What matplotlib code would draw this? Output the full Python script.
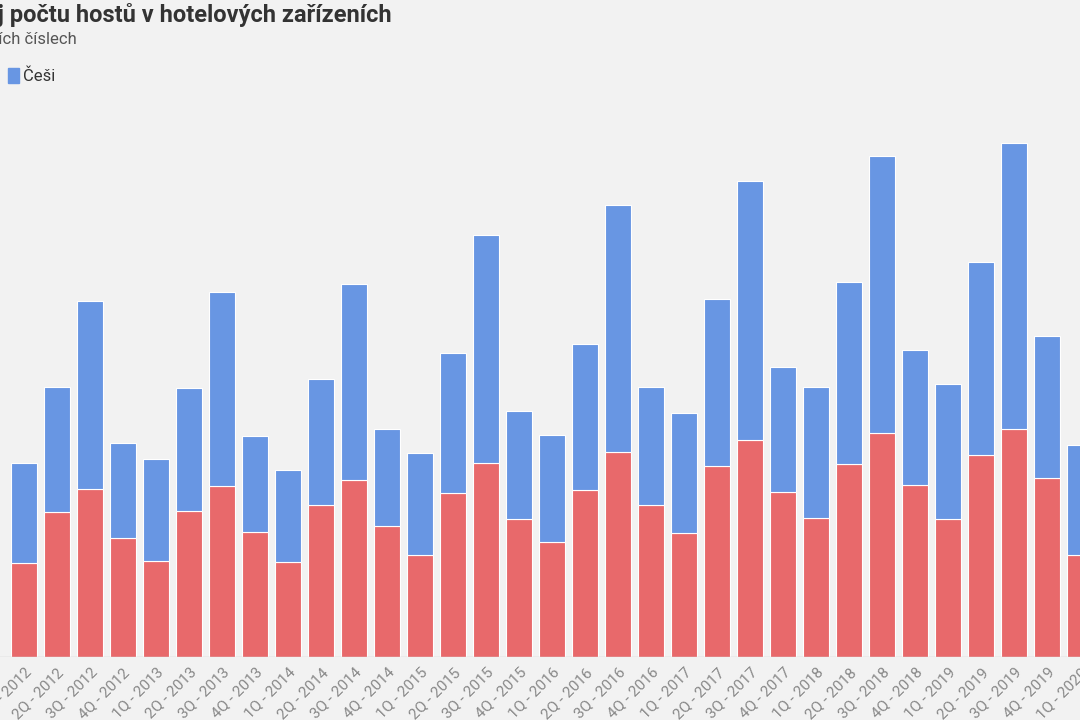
import numpy as np
import matplotlib.pyplot as plt

plt.rcParams['font.family'] = ['Roboto', 'DejaVu Sans']

quarters = ["1Q - 2012", "2Q - 2012", "3Q - 2012", "4Q - 2012",
            "1Q - 2013", "2Q - 2013", "3Q - 2013", "4Q - 2013",
            "1Q - 2014", "2Q - 2014", "3Q - 2014", "4Q - 2014",
            "1Q - 2015", "2Q - 2015", "3Q - 2015", "4Q - 2015",
            "1Q - 2016", "2Q - 2016", "3Q - 2016", "4Q - 2016",
            "1Q - 2017", "2Q - 2017", "3Q - 2017", "4Q - 2017",
            "1Q - 2018", "2Q - 2018", "3Q - 2018", "4Q - 2018",
            "1Q - 2019", "2Q - 2019", "3Q - 2019", "4Q - 2019",
            "1Q - 2020"]
# thousands of guests (estimated)
cizinci = [94, 145, 168, 119, 96, 146, 171, 125, 95, 152, 177, 131,
           102, 164, 194, 138, 115, 167, 205, 152, 124, 191, 217, 165,
           139, 193, 224, 172, 138, 202, 228, 179, 102]
cesi = [100, 125, 188, 95, 102, 123, 194, 96, 92, 126, 196, 97,
        102, 140, 228, 108, 107, 146, 247, 118, 120, 167, 259, 125,
        131, 182, 277, 135, 135, 193, 286, 142, 110]

fig = plt.figure(figsize=(10.8, 7.2), dpi=100, facecolor='#f2f2f2')
ax = fig.add_axes([0, 63/720, 1, 557/720])
ax.set_facecolor('#f2f2f2')
x = np.arange(len(quarters))
ax.bar(x, cizinci, width=0.8, color='#e8696b', edgecolor='white', linewidth=0.8)
ax.bar(x, cesi, bottom=cizinci, width=0.8, color='#6896e3', edgecolor='white', linewidth=0.8)
ax.set_xlim(-24/33.2, 1056/33.2)
ax.set_ylim(0, 557)
ax.set_xticks(x)
ax.set_xticklabels(quarters, rotation=45, ha='right', rotation_mode='anchor',
                   fontsize=11, color='#888888')
ax.tick_params(axis='x', length=0, pad=6)
ax.set_yticks([])
for s in ax.spines.values():
    s.set_visible(False)
ax.axhline(0, color='#cccccc', lw=1)

fig.text(392/1080, 1 - 15/720, "Vývoj počtu hostů v hotelových zařízeních", ha='right',
         va='center', fontsize=17, fontweight='bold', color='#333333')
fig.text(77/1080, 1 - 40/720, "v absolutních číslech", ha='right', va='center',
         fontsize=12, color='#555555')
fig.patches.append(plt.Rectangle((8/1080, 1 - 83/720), 11/1080, 15/720, color='#6896e3',
                                 transform=fig.transFigure, figure=fig))
fig.text(23/1080, 1 - 76/720, "Češi", ha='left', va='center', fontsize=12, color='#333333')

fig.savefig('out.png', dpi=100, facecolor=fig.get_facecolor())
